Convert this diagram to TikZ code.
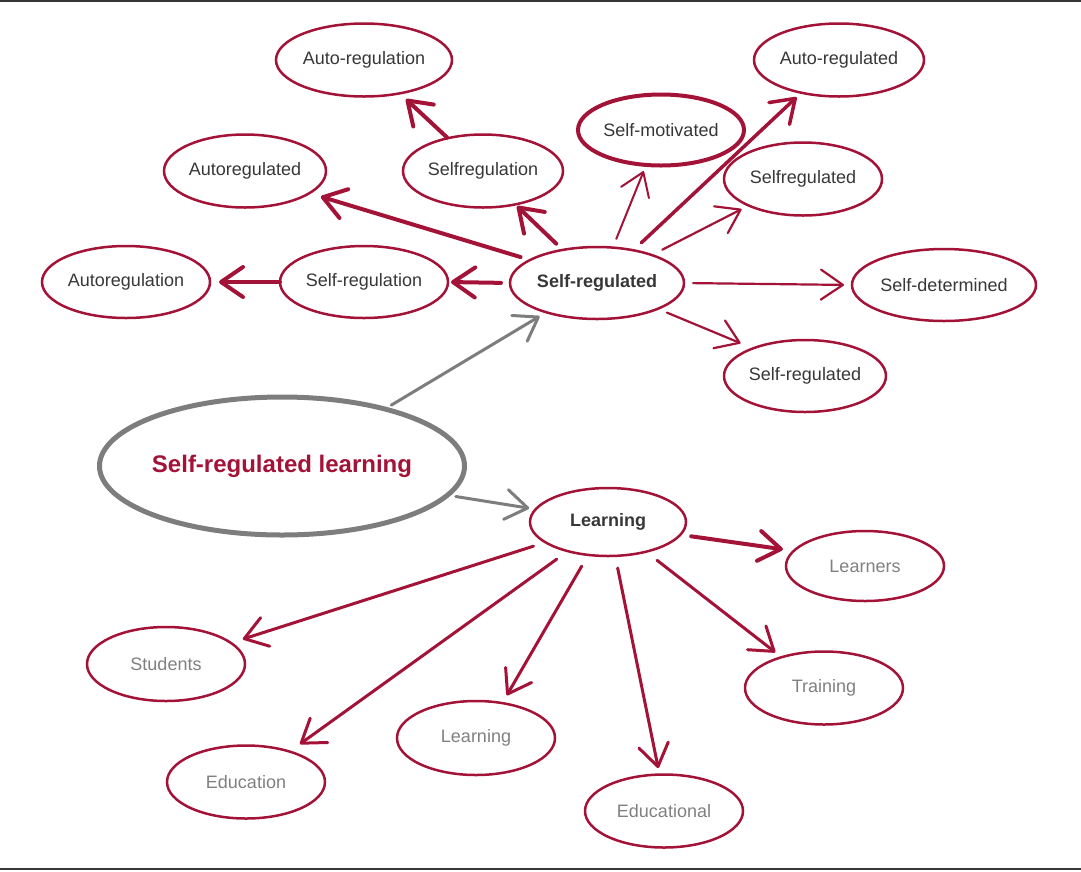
\documentclass[tikz,border=0pt]{standalone}
\usepackage{fontspec}
\setmainfont{Liberation Sans}
\usetikzlibrary{arrows.meta,shapes.geometric}
\definecolor{srred}{RGB}{163,18,55}
\definecolor{txtdark}{RGB}{55,55,55}
\definecolor{txtgray}{RGB}{128,128,128}
\definecolor{linegray}{RGB}{125,125,125}
\tikzset{
  bub/.style={ellipse, draw=srred, line width=2.5pt, inner sep=0pt, outer sep=0pt,
    font=\fontsize{18}{22}\selectfont, text=txtdark},
  lowbub/.style={bub, text=txtgray},
  arr/.style={draw=srred, line cap=round, line join=round,
    -{Straight Barb[length=22pt,width=30pt,round]}},
  garr/.style={arr, draw=linegray, line width=3pt}
}
\newcommand{\txt}[1]{\makebox[0pt]{#1}}
\begin{document}
\begin{tikzpicture}[x=1pt,y=-1pt]
\useasboundingbox (0,0) rectangle (1081,871);
\fill[txtdark] (0,0) rectangle (1081,2);
\fill[txtdark] (0,868) rectangle (1081,870);

% upper cluster
\node[bub, minimum width=174pt, minimum height=72pt] (sr) at (597,283) {\txt{\bfseries Self-regulated}};
\node[bub, minimum width=168pt, minimum height=72pt] (srg) at (364,282) {\txt{Self-regulation}};
\node[bub, minimum width=168pt, minimum height=72pt] (autoreg) at (126,282) {\txt{Autoregulation}};
\node[bub, minimum width=162pt, minimum height=73pt] (autoregd) at (245,171) {\txt{Autoregulated}};
\node[bub, minimum width=160pt, minimum height=73pt] (selfreg) at (483,171) {\txt{Selfregulation}};
\node[bub, minimum width=176pt, minimum height=73pt] (autoreg2) at (364,60) {\txt{Auto-regulation}};
\node[bub, line width=4pt, minimum width=166pt, minimum height=71pt] (smot) at (661,130) {\txt{Self-motivated}};
\node[bub, minimum width=170pt, minimum height=73pt] (autoregd2) at (839,60) {\txt{Auto-regulated}};
\node[bub, minimum width=158pt, minimum height=73pt] (selfregd) at (803,179) {\txt{Selfregulated}};
\node[bub, minimum width=184pt, minimum height=72pt] (sdet) at (944,285) {\txt{Self-determined}};
\node[bub, minimum width=162pt, minimum height=72pt] (srl) at (805,376) {\txt{Self-regulated}};

% central
\node[ellipse, draw=linegray, line width=5pt, inner sep=0pt, outer sep=0pt,
  minimum width=365pt, minimum height=138pt, text=srred,
  font=\fontsize{24}{28}\selectfont\bfseries] (big) at (282,466) {\txt{Self-regulated learning}};

% lower cluster
\node[bub, minimum width=156pt, minimum height=68pt] (lrn) at (608,522) {\txt{\bfseries Learning}};
\node[lowbub, minimum width=158pt, minimum height=70pt] (learners) at (865,566) {\txt{Learners}};
\node[lowbub, minimum width=158pt, minimum height=74pt] (students) at (166,664) {\txt{Students}};
\node[lowbub, minimum width=158pt, minimum height=73pt] (training) at (824,688) {\txt{Training}};
\node[lowbub, minimum width=158pt, minimum height=74pt] (lrn2) at (476,738) {\txt{Learning}};
\node[lowbub, minimum width=158pt, minimum height=73pt] (edu) at (246,782) {\txt{Education}};
\node[lowbub, minimum width=158pt, minimum height=73pt] (educ) at (664,811) {\txt{Educational}};

% arrows upper
\draw[arr, line width=4pt, shorten <=9pt, shorten >=3pt] (sr.180) -- (srg.0);
\draw[arr, line width=4pt, shorten <=0pt, shorten >=9pt] (srg.180) -- (autoreg.0);
\draw[arr, line width=4pt, shorten <=10pt, shorten >=12pt] (sr.161.8) -- (autoregd.341.6);
\draw[arr, line width=4pt, shorten <=9pt, shorten >=2.5pt] (sr.136.4) -- (selfreg.314.2);
\draw[arr, line width=4pt, shorten <=1pt, shorten >=8.5pt] (selfreg.137.4) -- (autoreg2.317.1);
\draw[arr, line width=2pt, shorten <=9.4pt, shorten >=6.7pt] (sr.66) -- (smot.247.3);
\draw[arr, line width=3.5pt, shorten <=11pt, shorten >=6.6pt] (sr.42.3) -- (autoregd2.221.5);
\draw[arr, line width=2.2pt, shorten <=11.7pt, shorten >=8pt] (sr.27.3) -- (selfregd.206.6);
\draw[arr, line width=2.2pt, shorten <=9pt, shorten >=8pt] (sr.0) -- (sdet.180);
\draw[arr, line width=2.2pt, shorten <=10pt, shorten >=13.5pt] (sr.337.4) -- (srl.152.7);

% gray arrows
\draw[garr, shorten <=7.5pt, shorten >=7.8pt] (big.29.8) -- (sr.210.4);
\draw[garr, shorten <=8.5pt, shorten >=6.6pt] (big.350.1) -- (lrn.170.1);

% arrows lower
\draw[arr, line width=4pt, shorten <=11pt, shorten >=11pt] (lrn.350.6) -- (learners.168.6);
\draw[arr, line width=3pt, shorten <=12.5pt, shorten >=12.5pt] (lrn.198.4) -- (students.18.7);
\draw[arr, line width=3pt, shorten <=13.7pt, shorten >=12.8pt] (lrn.216.2) -- (edu.35.8);
\draw[arr, line width=3pt, shorten <=13pt, shorten >=9pt] (lrn.239) -- (lrn2.53.3);
\draw[arr, line width=3pt, shorten <=12.4pt, shorten >=6.6pt] (lrn.282) -- (educ.97.8);
\draw[arr, line width=3pt, shorten <=14pt, shorten >=8pt] (lrn.322) -- (training.144.8);
\end{tikzpicture}
\end{document}
